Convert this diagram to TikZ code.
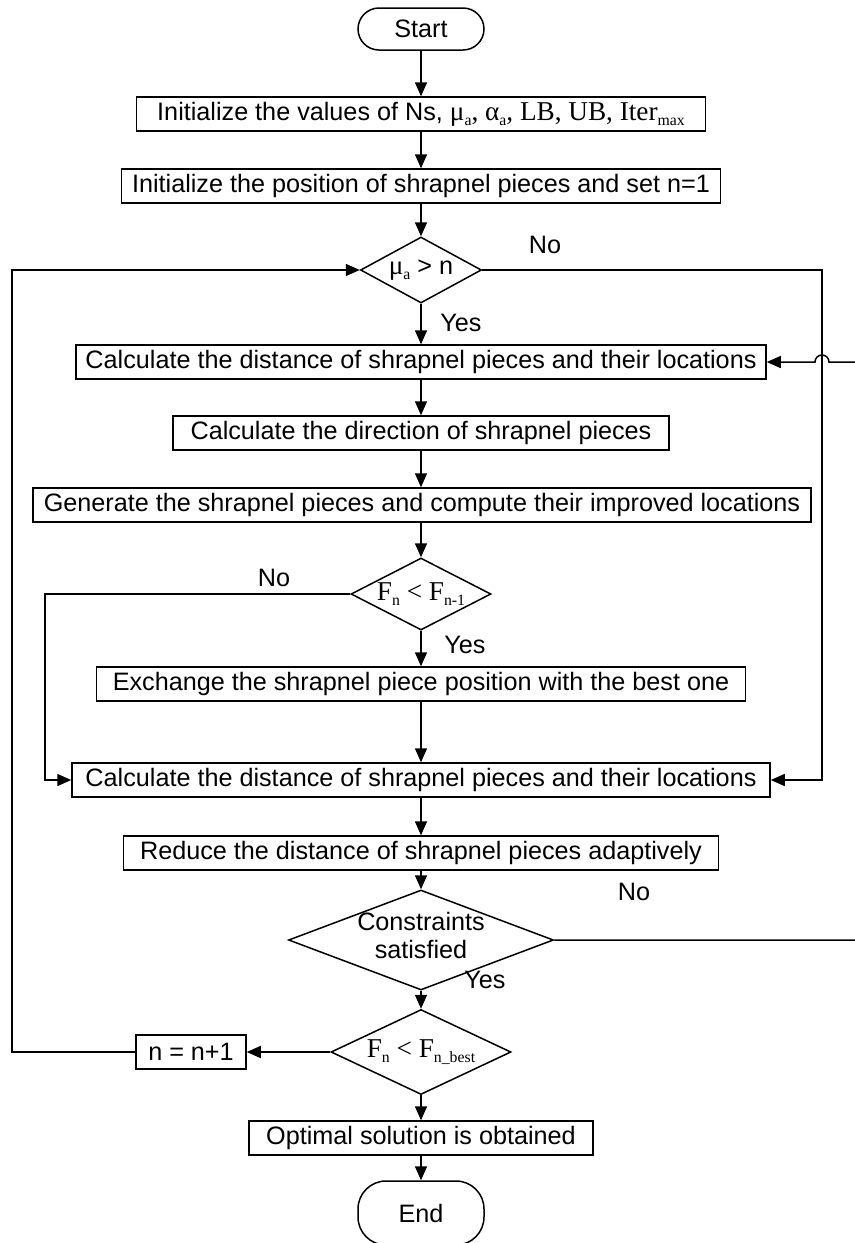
\documentclass[tikz,border=0pt]{standalone}
\usepackage{fontspec}
\setmainfont{Liberation Sans}
\newfontfamily\tms[Scale=1.08]{Liberation Serif}
\usetikzlibrary{shapes.geometric,arrows.meta}
\newcommand{\lowsub}[1]{\raisebox{-0.4ex}{\fontsize{7.3}{7.3}\selectfont #1}}
\tikzset{
  every node/.style={font=\fontsize{12.6}{14}\selectfont},
  procbox/.style={draw,line width=0.75pt,rectangle,minimum height=17pt,inner sep=0pt},
  termbox/.style={draw,line width=0.75pt,rounded corners=10.5pt,minimum width=63pt,minimum height=21pt,inner sep=0pt},
  decision/.style={draw,line width=0.75pt,diamond,inner sep=0pt},
  flow/.style={line width=0.75pt,-{Triangle[length=7pt,width=6pt]}},
  lbl/.style={inner sep=0pt}
}
\begin{document}
\begin{tikzpicture}[x=0.5pt,y=-0.5pt]
\clip (0,0) rectangle (855,1243);
\fill[white] (0,0) rectangle (855,1243);

% main column
\node[termbox] (start) at (421,29) {Start};
\node[procbox,minimum width=284.5pt] (init1) at (421,114)
  {Initialize the values of Ns, {\tms μ\lowsub{a}, α\lowsub{a}, LB, UB, Iter\lowsub{max}}};
\node[procbox,minimum width=299.5pt] (init2) at (421,186)
  {Initialize the position of shrapnel pieces and set n=1};
\node[decision,minimum width=60.5pt,minimum height=33pt] (d1) at (421,270) {};
\node[lbl] (d1t) at (d1) {{\tms μ\lowsub{a}} > n};
\node[procbox,minimum width=345pt] (calc1) at (421,362)
  {Calculate the distance of shrapnel pieces and their locations};
\node[procbox,minimum width=248pt] (dir) at (421,433)
  {Calculate the direction of shrapnel pieces};
\node[procbox,minimum width=389pt] (gen) at (422,505)
  {Generate the shrapnel pieces and compute their improved locations};
\node[decision,minimum width=70pt,minimum height=36pt] (d2) at (421,594) {};
\node[lbl] (d2t) at (d2) {\tms F\lowsub{n} < F\lowsub{n-1}};
\node[procbox,minimum width=324.5pt] (exch) at (421,684)
  {Exchange the shrapnel piece position with the best one};
\node[procbox,minimum width=349pt] (calc2) at (421,780)
  {Calculate the distance of shrapnel pieces and their locations};
\node[procbox,minimum width=297.5pt] (reduce) at (421,853)
  {Reduce the distance of shrapnel pieces adaptively};
\node[decision,minimum width=132.5pt,minimum height=50pt] (cons) at (421,940) {};
\node[lbl,align=center,font=\fontsize{12.6}{14}\selectfont] (const) at (421,935)
  {Constraints\\satisfied};
\node[decision,minimum width=90pt,minimum height=42.5pt] (d4) at (421,1052) {};
\node[lbl] (d4t) at (d4) {\tms F\lowsub{n} < F\lowsub{n\_best}};
\node[procbox,minimum width=55pt] (incr) at (191,1052) {n = n+1};
\node[procbox,minimum width=172pt] (opt) at (421,1138)
  {Optimal solution is obtained};
\node[termbox,minimum height=32pt,rounded corners=14pt] (end) at (421,1213) {End};

% bend points of the side loops
\coordinate (lb1) at (12,1052);
\coordinate (lb2) at (12,270);
\coordinate (rb1) at (822,270);
\coordinate (rb2) at (822,780);
\coordinate (nb1) at (45,594);
\coordinate (nb2) at (45,780);
\coordinate (cb1) at (880,940);
\coordinate (cb2) at (880,362);
\coordinate (hopR) at (829,362);

% straight connectors
\draw[flow] (start) -- (init1);
\draw[flow] (init1) -- (init2);
\draw[flow] (init2) -- (d1);
\draw[flow] (d1) -- (calc1);
\draw[flow] (calc1) -- (dir);
\draw[flow] (dir) -- (gen.north -| dir.south);
\draw[flow] (gen.south -| d2.north) -- (d2);
\draw[flow] (d2) -- (exch);
\draw[flow] (exch) -- (calc2);
\draw[flow] (calc2) -- (reduce);
\draw[flow] (reduce) -- (cons);
\draw[flow] (cons) -- (d4);
\draw[flow] (d4) -- (opt);
\draw[flow] (opt) -- (end);
\draw[flow] (d4) -- (incr);

% loops
\draw[flow] (incr.west) -- (lb1) -- (lb2) -- (d1.west);
\draw[flow] (d1.east) -- (rb1) -- (rb2) -- (calc2.east);
\draw[flow] (d2.west) -- (nb1) -- (nb2) -- (calc2.west);
\draw[flow] (cons.east) -- (cb1) -- (cb2) -- (hopR) arc[start angle=0,end angle=-180,radius=7] -- (calc1.east);

% branch labels
\node[lbl] (n1) at (545,245) {No};
\node[lbl] (y1) at (461,323) {Yes};
\node[lbl] (n2) at (274,578) {No};
\node[lbl] (y2) at (465,645) {Yes};
\node[lbl] (n3) at (634,892) {No};
\node[lbl] (y3) at (485,980) {Yes};
\end{tikzpicture}
\end{document}
